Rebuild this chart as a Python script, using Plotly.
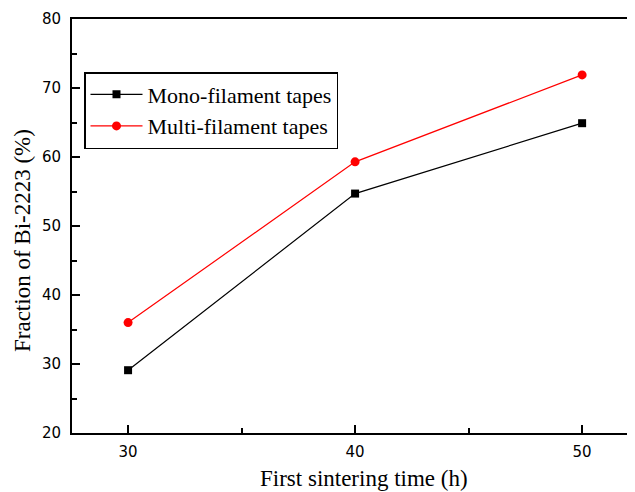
import plotly.graph_objects as go

sinter_time = [30, 40, 50]
mono_fraction = [29.1, 54.7, 64.9]
multi_fraction = [36.0, 59.3, 71.9]
series_names = ["Mono-filament tapes", "Multi-filament tapes"]
x_title = "First sintering time (h)"
y_title = "Fraction of Bi-2223 (%)"

serif = "Liberation Serif, Times New Roman, serif"
sans = "DejaVu Sans, Verdana, sans-serif"

# page body has an 8px margin, so the figure is sized/placed to compensate
W, H = 627, 484
L, T, B = 64, 11, 59
PW, PH = W - L, H - T - B

fig = go.Figure()
fig.add_trace(go.Scatter(
    x=sinter_time, y=mono_fraction, name=series_names[0], mode="lines+markers",
    line=dict(color="black", width=1.2),
    marker=dict(symbol="square", size=8, color="black"),
))
fig.add_trace(go.Scatter(
    x=sinter_time, y=multi_fraction, name=series_names[1], mode="lines+markers",
    line=dict(color="#ff0000", width=1.2),
    marker=dict(symbol="circle", size=9, color="#ff0000"),
))

axis_common = dict(
    showgrid=False, zeroline=False, showline=True, linecolor="black", linewidth=2,
    ticks="inside", ticklen=8, tickwidth=1.5, tickcolor="black",
    tickfont=dict(family=sans, size=15, color="black"),
    automargin=False,
)

fig.update_layout(
    width=W, height=H,
    margin=dict(l=L, r=0, t=T, b=B, autoexpand=False),
    paper_bgcolor="white", plot_bgcolor="white",
    showlegend=True,
    legend=dict(
        x=(84 - 72) / PW, y=(433 - 72) / PH, xanchor="left", yanchor="top",
        bordercolor="black", borderwidth=1.5, bgcolor="white",
        font=dict(family=serif, size=22, color="black"),
        tracegroupgap=0, itemwidth=52,
    ),
    xaxis=dict(
        **axis_common, range=[27.53, 52.33], tick0=30, dtick=10, mirror=True,
        minor=dict(ticks="inside", ticklen=5, tickwidth=1.5, tickcolor="black", dtick=5, tick0=30),
        ticklabelstandoff=4,
    ),
    yaxis=dict(
        **axis_common, range=[20, 80], tick0=20, dtick=10,
        minor=dict(ticks="inside", ticklen=5, tickwidth=1.5, tickcolor="black", dtick=5, tick0=20),
        ticklabelstandoff=6,
    ),
    annotations=[
        dict(text=x_title, xref="paper", yref="paper", x=(364 - 72) / PW, y=-(478 - 433) / PH,
             xanchor="center", yanchor="middle", showarrow=False,
             font=dict(family=serif, size=23, color="black")),
        dict(text=y_title, xref="paper", yref="paper", x=-(72 - 23) / PW, y=(433 - 241) / PH,
             xanchor="center", yanchor="middle", showarrow=False, textangle=-90,
             font=dict(family=serif, size=23, color="black")),
    ],
)

fig.write_html("out.html")
